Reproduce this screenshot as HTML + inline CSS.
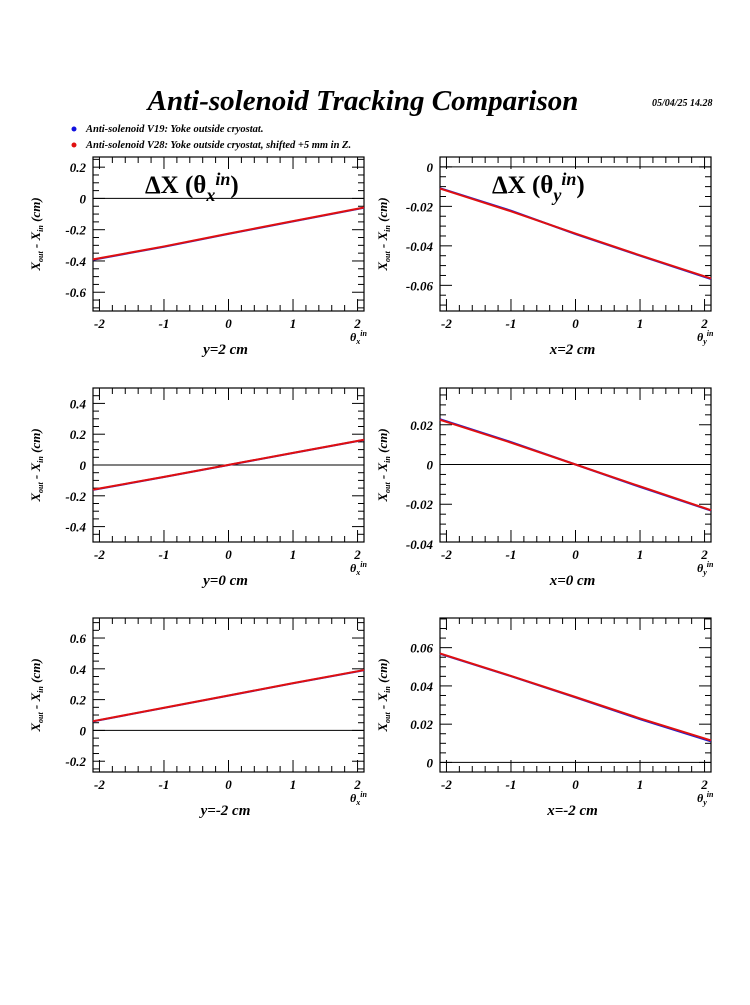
<!DOCTYPE html>
<html><head><meta charset="utf-8"><style>
body{margin:0;background:#fff;}
svg text{font-family:"Liberation Serif",serif;font-weight:bold;font-style:italic;}
</style></head><body>
<svg id="c" width="750" height="1000" xmlns="http://www.w3.org/2000/svg">
<text x="363" y="110" font-size="29" text-anchor="middle">Anti-solenoid Tracking Comparison</text>
<text x="652" y="106" font-size="10">05/04/25   14.28</text>
<g>
<circle cx="74" cy="129" r="2.5" fill="#1010e0"/>
<text x="86" y="132" font-size="10.5">Anti-solenoid V19: Yoke outside cryostat.</text>
<circle cx="74" cy="145" r="2.5" fill="#e01010"/>
<text x="86" y="148" font-size="10.5">Anti-solenoid V28: Yoke outside cryostat, shifted +5 mm in Z.</text>
</g>
</svg>
<script>
const xMin=-2.1, xMax=2.1;
const xTicks=[-2,-1,0,1,2];
const seriesX=[-2.1,-1,0,1,2.1];
const p1V19=[-0.392,-0.309,-0.227,-0.147,-0.06];
const p1V28=[-0.39,-0.307,-0.225,-0.145,-0.058];
const p2V19=[-0.0108,-0.0222,-0.034,-0.045,-0.0568];
const p2V28=[-0.011,-0.0225,-0.0338,-0.0448,-0.0565];
const p3V19=[-0.162,-0.078,0,0.078,0.163];
const p3V28=[-0.16,-0.077,0.001,0.079,0.164];
const p4V19=[0.0228,0.0113,0,-0.0113,-0.0232];
const p4V28=[0.0225,0.011,0,-0.011,-0.023];
const p5V19=[0.059,0.146,0.226,0.306,0.391];
const p5V28=[0.06,0.147,0.227,0.307,0.392];
const p6V19=[0.0568,0.0451,0.034,0.0226,0.011];
const p6V28=[0.057,0.0452,0.0342,0.023,0.0115];
const p1Ticks=[0.2,0,-0.2,-0.4,-0.6];
const p2Ticks=[0,-0.02,-0.04,-0.06];
const p3Ticks=[0.4,0.2,0,-0.2,-0.4];
const p4Ticks=[0.02,0,-0.02,-0.04];
const p5Ticks=[0.6,0.4,0.2,0,-0.2];
const p6Ticks=[0.06,0.04,0.02,0];
const panels=[
 {x0:93,y0:157,yMin:-0.72,yMax:0.265,ticks:p1Ticks,minor:0.05,a:p1V19,b:p1V28,cap:'y=2 cm',ax:'x',title:true},
 {x0:440,y0:157,yMin:-0.073,yMax:0.005,ticks:p2Ticks,minor:0.005,a:p2V19,b:p2V28,cap:'x=2 cm',ax:'y',title:true},
 {x0:93,y0:388,yMin:-0.5,yMax:0.5,ticks:p3Ticks,minor:0.05,a:p3V19,b:p3V28,cap:'y=0 cm',ax:'x'},
 {x0:440,y0:388,yMin:-0.039,yMax:0.0385,ticks:p4Ticks,minor:0.005,a:p4V19,b:p4V28,cap:'x=0 cm',ax:'y'},
 {x0:93,y0:618,yMin:-0.27,yMax:0.73,ticks:p5Ticks,minor:0.05,a:p5V19,b:p5V28,cap:'y=-2 cm',ax:'x'},
 {x0:440,y0:618,yMin:-0.005,yMax:0.0755,ticks:p6Ticks,minor:0.005,a:p6V19,b:p6V28,cap:'x=-2 cm',ax:'y'}
];
const W=271,H=154,NS='http://www.w3.org/2000/svg';
const svg=document.getElementById('c');
function mk(t,at,parent){const e=document.createElementNS(NS,t);for(const k in at)e.setAttribute(k,at[k]);(parent||svg).appendChild(e);return e;}
function fmt(v){if(Math.abs(v)<1e-9)return '0';return String(+v.toFixed(3)).replace(/^(-?)0\./,'$10.');}
panels.forEach((p,i)=>{
 const sx=v=>p.x0+(v-xMin)/(xMax-xMin)*W;
 const sy=v=>p.y0+H-(v-p.yMin)/(p.yMax-p.yMin)*H;
 const g=mk('g',{});
 
 
 const fr=mk('rect',{x:p.x0,y:p.y0,width:W,height:H,fill:'none',stroke:'#000','stroke-width':1.2},g);
 
 
 for(let v=-2;v<=2.001;v+=0.2){
  const major=Math.abs(v-Math.round(v))<1e-6;const L=major?12:6;
  mk('line',{x1:sx(v),x2:sx(v),y1:p.y0+H,y2:p.y0+H-L,stroke:'#000'},g);
  mk('line',{x1:sx(v),x2:sx(v),y1:p.y0,y2:p.y0+L,stroke:'#000'},g);
 }
 xTicks.forEach(v=>{const t=mk('text',{x:sx(v),y:p.y0+H+17,'font-size':13,'text-anchor':'middle'},g);t.textContent=String(v);
  
  });
 const st=p.minor;const start=Math.ceil(p.yMin/st)*st;
 for(let v=start;v<=p.yMax+1e-9;v+=st){
  const isMaj=p.ticks.some(t=>Math.abs(t-v)<st*0.01);const L=isMaj?12:6;
  mk('line',{x1:p.x0,x2:p.x0+L,y1:sy(v),y2:sy(v),stroke:'#000'},g);
  mk('line',{x1:p.x0+W,x2:p.x0+W-L,y1:sy(v),y2:sy(v),stroke:'#000'},g);
 }
 p.ticks.forEach(v=>{const t=mk('text',{x:p.x0-7,y:sy(v)+5,'font-size':13,'text-anchor':'end'},g);t.textContent=fmt(v);
  
  });
 if(p.yMin<0&&p.yMax>0){const z=mk('line',{x1:p.x0,x2:p.x0+W,y1:sy(0),y2:sy(0),stroke:'#000'},g);
  
  }
 [[p.a,'#2020d0'],[p.b,'#e01010']].forEach(([arr,col],k)=>{
  const pl=mk('polyline',{points:arr.map((v,j)=>sx(seriesX[j])+','+sy(v)).join(' '),fill:'none',stroke:col,'stroke-width':2},g);
  
  
 });
 const xl=mk('text',{x:p.x0+W-14,y:p.y0+H+30,'font-size':12},g);
 xl.innerHTML='θ<tspan font-size="8" dy="3">'+p.ax+'</tspan><tspan font-size="8" dy="-8">in</tspan>';
 
 
 const cy=p.y0+H/2, cx=p.x0-53;
 const yl=mk('text',{x:cx,y:cy,'font-size':13,'text-anchor':'middle',transform:'rotate(-90 '+cx+' '+cy+')'},g);
 yl.innerHTML='X<tspan font-size="8" dy="3">out</tspan><tspan dy="-3"> - X</tspan><tspan font-size="8" dy="3">in</tspan><tspan dy="-3"> (cm)</tspan>';
 
 
 const cp=mk('text',{x:p.x0+W/2-3,y:p.y0+H+43,'font-size':15,'text-anchor':'middle'},g);
 cp.textContent=p.cap;
 
 
 if(p.title){
  const tt=mk('text',{x:p.x0+52,y:p.y0+36,'font-size':25,style:'font-style:normal'},g);
  tt.innerHTML='ΔX (θ<tspan font-size="18" dy="8" style="font-style:italic">'+p.ax+'</tspan><tspan font-size="18" dy="-16" style="font-style:italic">in</tspan><tspan dy="8">)</tspan>';
  
  
 }
});
</script>
</body></html>
